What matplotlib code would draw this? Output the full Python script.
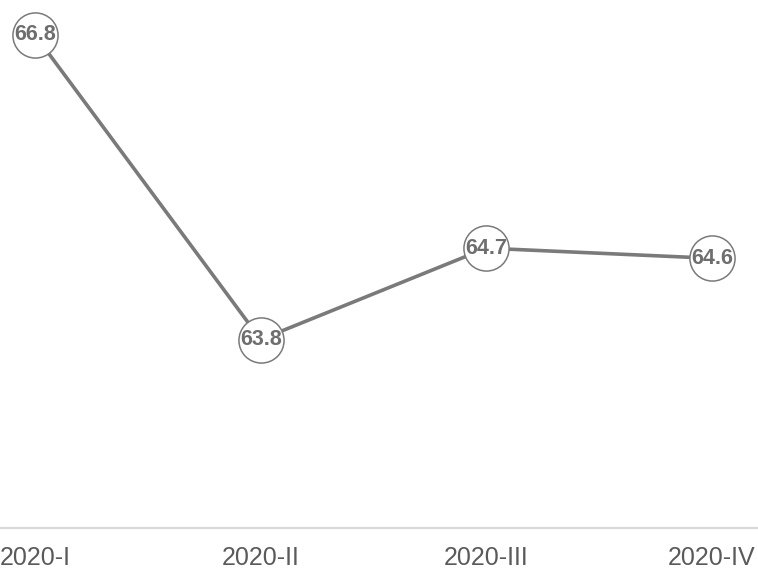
import matplotlib
matplotlib.use("Agg")
import matplotlib.pyplot as plt

categories = ["2020-I", "2020-II", "2020-III", "2020-IV"]
values = [66.8, 63.8, 64.7, 64.6]
labels = ["66.8", "63.8", "64.7", "64.6"]

plt.rcParams['font.family'] = ['Liberation Sans', 'DejaVu Sans']

fig = plt.figure(figsize=(7.58, 5.70), dpi=100)
ax = fig.add_axes([0, 42/570, 1, 528/570])

x = list(range(len(categories)))
ax.plot(x, values, color="#7a7a7a", linewidth=2.6, zorder=2,
        marker="o", markersize=32.5, markerfacecolor="white",
        markeredgecolor="#7a7a7a", markeredgewidth=1.1, clip_on=False)
for xi, v, t in zip(x, values, labels):
    ax.text(xi, v, t, ha="center", va="center", fontsize=15.5, fontweight="bold",
            color="#6e6e6e", zorder=3)

ax.set_xlim(-35/225.67, 3 + 46/225.67)
ax.set_ylim(66.8 - 493/101.5, 66.8 + 35/101.5)
ax.set_xticks(x)
ax.set_xticklabels(categories, fontsize=18, color="#5a5a5a")
ax.tick_params(axis="x", length=0, pad=13)
ax.set_yticks([])
for s in ["top", "left", "right"]:
    ax.spines[s].set_visible(False)
ax.spines["bottom"].set_color("#d9d9d9")
ax.spines["bottom"].set_linewidth(1.6)
ax.set_facecolor("white")
fig.savefig("out.png", dpi=100)
